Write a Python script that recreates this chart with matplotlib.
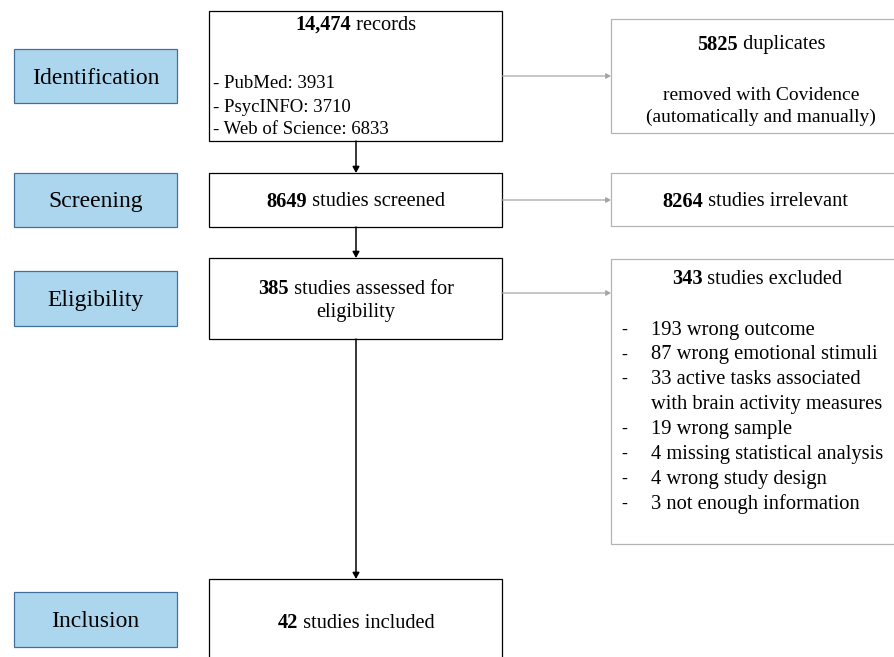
import matplotlib
matplotlib.use("Agg")
from matplotlib import pyplot as plt
from matplotlib.patches import Rectangle

plt.rcParams['font.family'] = ['Liberation Serif', 'DejaVu Serif']

# data
stages = ["Identification", "Screening", "Eligibility", "Inclusion"]
records_n = "14,474"
databases = ["PubMed: 3931", "PsycINFO: 3710", "Web of Science: 6833"]
screened_n = "8649"
assessed_n = "385"
included_n = "42"
duplicates_n = "5825"
irrelevant_n = "8264"
excluded_n = "343"
exclusion_reasons = ["193 wrong outcome",
                     "87 wrong emotional stimuli",
                     "33 active tasks associated\nwith brain activity measures",
                     "19 wrong sample",
                     "4 missing statistical analysis",
                     "4 wrong study design",
                     "3 not enough information"]

fig = plt.figure(figsize=(8.94, 6.57), dpi=100)
ax = fig.add_axes([0, 0, 1, 1])
ax.set_xlim(0, 894)
ax.set_ylim(657, 0)
ax.axis("off")
renderer = fig.canvas.get_renderer()

FS = 14.7
DY = 2  # small nudge so text sits like the original


def box(x0, y0, x1, y1, ec="black", fc="white", lw=0.9):
    ax.add_patch(Rectangle((x0, y0), x1 - x0, y1 - y0, ec=ec, fc=fc, lw=lw))


def mixed(x, y, bold, rest, size=FS):
    # bold number followed by normal text, centred on x
    t1 = ax.text(0, y + DY, bold, weight="bold", size=size, va="center", ha="left")
    t2 = ax.text(0, y + DY, " " + rest, size=size, va="center", ha="left")
    w1 = t1.get_window_extent(renderer).width
    w2 = t2.get_window_extent(renderer).width
    left = x - (w1 + w2) / 2
    t1.set_x(left)
    t2.set_x(left + w1)


def arrow(x0, y0, x1, y1, color, lw, hw):
    ax.annotate("", xy=(x1, y1), xytext=(x0, y0),
                arrowprops=dict(arrowstyle="-|>,head_length=%s,head_width=%s" % (hw * 1.8, hw),
                                color=color, lw=lw, shrinkA=0, shrinkB=0))


# stage labels (blue boxes)
stage_y = [(49, 103), (173, 227), (271, 326), (592, 647)]
for name, (a, b) in zip(stages, stage_y):
    box(14, a, 177, b, ec="#41719c", fc="#acd5ee", lw=0.9)
    ax.text(95.5, (a + b) / 2 + DY, name, size=17, ha="center", va="center")

# main column
cx = 356
box(209, 11, 502, 141)
mixed(cx, 23, records_n, "records")
for i, d in enumerate(databases):
    ax.text(213, 82 + DY + i * 23, "- " + d, size=13.5, va="center", ha="left")

box(209, 173, 502, 227)
mixed(cx, 200, screened_n, "studies screened")

box(209, 258, 502, 339)
mixed(cx, 287, assessed_n, "studies assessed for")
ax.text(cx, 311 + DY, "eligibility", size=FS, ha="center", va="center")

box(209, 579, 502, 680)
mixed(cx, 621, included_n, "studies included")

arrow(cx, 141, cx, 173, "black", 1.1, 0.2)
arrow(cx, 227, cx, 258, "black", 1.1, 0.2)
arrow(cx, 339, cx, 579, "black", 1.1, 0.2)

# right column (excluded)
gray = "#b4b4b4"
box(611, 19, 900, 133, ec=gray)
mixed(761, 43, duplicates_n, "duplicates")
ax.text(761, 93 + DY, "removed with Covidence", size=14, ha="center", va="center")
ax.text(761, 115 + DY, "(automatically and manually)", size=14, ha="center", va="center")

box(611, 173, 900, 226, ec=gray)
mixed(755, 200, irrelevant_n, "studies irrelevant")

box(611, 259, 900, 544, ec=gray)
mixed(757, 277, excluded_n, "studies excluded")
yy = 328
for r in exclusion_reasons:
    ax.text(624, yy + DY, "-", size=13, va="center", ha="center")
    for line in r.split("\n"):
        ax.text(651, yy + DY, line, size=14.8, va="center", ha="left")
        yy += 24.9

arrow(502, 76, 611, 76, "#a6a6a6", 0.9, 0.16)
arrow(502, 200, 611, 200, "#a6a6a6", 0.9, 0.16)
arrow(502, 293, 611, 293, "#a6a6a6", 0.9, 0.16)

fig.savefig("out.png", dpi=100)
